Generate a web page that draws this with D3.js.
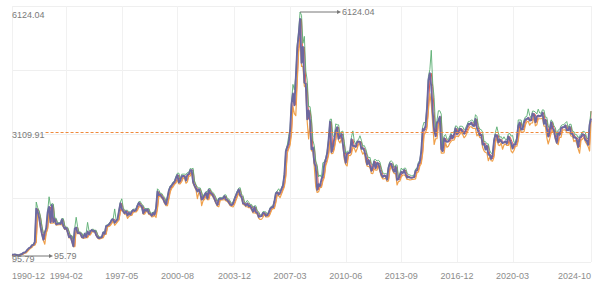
<!DOCTYPE html>
<html>
<head>
<meta charset="utf-8">
<script src="https://cdn.jsdelivr.net/npm/d3@7"></script>
<style>
html,body{margin:0;padding:0;background:#fff;}
svg{display:block;font-family:"Liberation Sans",Arial,sans-serif;}
</style>
</head>
<body>
<div id="chart"></div>
<script>
// ---- categories: monthly, 1990-12 .. 2024-10 ----
const firstMonth = "1990-12";
const lastMonth = "2024-10";
const tickLabels = ["1990-12","1994-02","1997-05","2000-08","2003-12","2007-03","2010-06","2013-09","2016-12","2020-03","2024-10"];

// ---- series values (SSE Composite, sampled per month) ----
const close = [
127.61,
129.97,133.99,120.19,113.94,114.83,137.56,145.04,178.43,180.92,218.60,259.60,292.75,
313.24,364.97,370.80,445.09,1265.79,1195.54,1048.10,820.70,640.75,499.29,670.21,780.39,
1179.31,1311.03,925.91,1358.78,935.56,1007.07,880.79,890.28,900.10,888.36,1000.89,833.80,
770.24,789.06,690.67,560.38,590.22,467.57,333.92,772.20,800.54,661.28,670.83,647.87,
562.59,549.26,647,563,700.5,631,710,740,705,717,617,555.29,
537,550,563,679,643,834,849,873,922,993,1002,917.02,
963,1002,1206,1399,1264,1200,1150,1203,1097,1165,1119,1194.1,
1232,1205,1243,1339,1411,1339,1326,1150,1247,1215,1248,1146.7,
1134,1090,1159,1120,1279,1689,1601,1613,1556,1513,1422,1366.58,
1534,1714,1800,1836,1894,1928,2023,2097,1910,1961,2070,2073.48,
2066,1959,2112,2119,2214,2218,1920,1834,1764,1689,1747,1645.97,
1491,1524,1603,1657,1515,1732,1651,1636,1581,1507,1421,1357.65,
1499,1511,1510,1521,1576,1487,1476,1422,1367,1349,1397,1497.04,
1590,1675,1742,1595,1555,1399,1386,1342,1396,1320,1340,1266.5,
1191,1306,1181,1159,1060,1080,1083,1162,1155,1092,1099,1161.06,
1258,1299,1298,1440,1641,1672,1612,1658,1752,1837,2099,2675.47,
2786,2881,3183,3841,4109,3820,4471,5218,5552,5954,4871,5262,
4383,4348,3473,3693,3433,2736,2775,2397,2293,1729,1871,1821,
1991,2082,2373,2477,2633,2959,3412,2667,2779,2996,3195,3277,
2989,3051,3110,2871,2592,2398,2638,2639,2656,2979,2820,2808,
2791,2905,2928,2911,2743,2762,2701,2568,2360,2469,2333,2199,
2293,2429,2263,2397,2373,2226,2103,2048,2086,2069,1980,2269,
2385,2366,2237,2178,2301,1979,1994,2098,2175,2142,2221,2116,
2033,2056,2033,2026,2039,2048,2202,2218,2364,2420,2683,3235,
3210,3310,3748,4442,4612,4277,3664,3206,3053,3383,3446,3539,
2738,2688,3004,2938,2917,2930,2979,3085,3005,3100,3250,3104,
3159,3242,3223,3155,3117,3192,3273,3361,3349,3393,3317,3307,
3481,3259,3169,3082,3095,2847,2876,2725,2821,2603,2588,2494,
2585,2941,3091,3078,2899,2979,2933,2886,2905,2929,2872,3050,
2977,2880,2750,2860,2852,2985,3310,3396,3218,3225,3392,3473,
3483,3509,3441,3447,3615,3591,3397,3544,3568,3547,3564,3640,
3361,3462,3252,3047,3186,3399,3253,3202,3024,2893,3151,3089,
3255,3280,3273,3323,3205,3202,3291,3120,3110,3018,3030,2975,
2789,3015,3041,3105,3087,2967,2939,2842,3336,3490
];
const open = [
96.05,
127.61,129.97,133.99,120.19,113.94,114.83,137.56,145.04,178.43,180.92,218.60,259.60,
292.75,313.24,364.97,370.80,445.09,1265.79,1195.54,1048.10,820.70,640.75,499.29,670.21,
780.39,1179.31,1311.03,925.91,1358.78,935.56,1007.07,880.79,890.28,900.10,888.36,1000.89,
833.80,770.24,789.06,690.67,560.38,590.22,467.57,333.92,772.20,800.54,661.28,670.83,
647.87,562.59,549.26,647,563,700.5,631,710,740,705,717,617,
555.29,537,550,563,679,643,834,849,873,922,993,1002,
917.02,963,1002,1206,1399,1264,1200,1150,1203,1097,1165,1119,
1194.1,1232,1205,1243,1339,1411,1339,1326,1150,1247,1215,1248,
1146.7,1134,1090,1159,1120,1279,1689,1601,1613,1556,1513,1422,
1366.58,1534,1714,1800,1836,1894,1928,2023,2097,1910,1961,2070,
2073.48,2066,1959,2112,2119,2214,2218,1920,1834,1764,1689,1747,
1645.97,1491,1524,1603,1657,1515,1732,1651,1636,1581,1507,1421,
1357.65,1499,1511,1510,1521,1576,1487,1476,1422,1367,1349,1397,
1497.04,1590,1675,1742,1595,1555,1399,1386,1342,1396,1320,1340,
1266.5,1191,1306,1181,1159,1060,1080,1083,1162,1155,1092,1099,
1161.06,1258,1299,1298,1440,1641,1672,1612,1658,1752,1837,2099,
2675.47,2786,2881,3183,3841,4109,3820,4471,5218,5552,5954,4871,
5262,4383,4348,3473,3693,3433,2736,2775,2397,2293,1729,1871,
1821,1991,2082,2373,2477,2633,2959,3412,2667,2779,2996,3195,
3277,2989,3051,3110,2871,2592,2398,2638,2639,2656,2979,2820,
2808,2791,2905,2928,2911,2743,2762,2701,2568,2360,2469,2333,
2199,2293,2429,2263,2397,2373,2226,2103,2048,2086,2069,1980,
2269,2385,2366,2237,2178,2301,1979,1994,2098,2175,2142,2221,
2116,2033,2056,2033,2026,2039,2048,2202,2218,2364,2420,2683,
3235,3210,3310,3748,4442,4612,4277,3664,3206,3053,3383,3446,
3539,2738,2688,3004,2938,2917,2930,2979,3085,3005,3100,3250,
3104,3159,3242,3223,3155,3117,3192,3273,3361,3349,3393,3317,
3307,3481,3259,3169,3082,3095,2847,2876,2725,2821,2603,2588,
2494,2585,2941,3091,3078,2899,2979,2933,2886,2905,2929,2872,
3050,2977,2880,2750,2860,2852,2985,3310,3396,3218,3225,3392,
3473,3483,3509,3441,3447,3615,3591,3397,3544,3568,3547,3564,
3640,3361,3462,3252,3047,3186,3399,3253,3202,3024,2893,3151,
3089,3255,3280,3273,3323,3205,3202,3291,3120,3110,3018,3030,
2975,2789,3015,3041,3105,3087,2967,2939,2842,3674.4
];
const high = [
127.61,
133,137,137,123,118,140,148,184,188,226,267,300,
321,373,382,455,1429,1290,1215,1068,840,660,690,800,
1200,1558.95,1335,1392,1380,1030,1028,910,920,920,1022,1020,
852,808,806,706,604,604,480,790,1052.94,818,686,686,
662,577,662,662,926.41,716,726,756,756,732,732,632,
570,565,578,695,695,855,870,895,944,1015,1024,1258.69,
985,1024,1228,1430,1510.18,1286,1222,1225,1225,1187,1187,1216,
1254,1254,1265,1368,1441,1441,1369,1348,1269,1269,1270,1270,
1169,1156,1181,1181,1301,1756.18,1719,1643,1643,1586,1543,1452,
1564,1744,1830,1866,1924,1958,2068,2142,2142,1991,2115,2118,
2118,2111,2157,2164,2259,2245.44,2263,1950,1864,1794,1777,1777,
1676,1554,1633,1687,1687,1762,1762,1681,1666,1611,1537,1451,
1529,1541,1541,1551,1606,1606,1517,1506,1452,1397,1427,1527,
1620,1705,1772,1783.01,1625,1585,1429,1416,1470,1426,1370,1370,
1296,1336,1336,1211,1189,1110,1110,1192,1192,1185,1129,1191,
1288,1329,1329,1470,1671,1702,1757,1688,1782,1867,2144,2720,
2831,3049,3243,3901,4335,4199,4561,5308,5642,6124.04,6044,5352,
5522,4673,4438,3786,3786,3493,2952,2820,2442,2338,2051,2100,
2036,2402,2418,2522,2678,3004,3472,3478.01,3068,3041,3361,3337,
3337,3111,3170,3181,2916,2637,2683,2684,2701,3024,3186.72,2941,
2853,2950,2973,3067,2956,2807,2826,2746,2613,2514,2536,2378,
2338,2474,2478,2442,2461,2418,2271,2148,2131,2131,2114,2314,
2430,2444,2411,2282,2346,2346,2039,2143,2270,2220,2266,2266,
2161,2101,2101,2078,2084,2093,2247,2263,2409,2465,2728,3295,
3406,3370,3808,4532,4702,5178.19,4367,4006,3266,3443,3684,3684,
3599,2783,3064,3097,2983,2975,3070,3140,3145,3160,3310,3301,
3219,3302,3302,3295,3215,3252,3333,3421,3421,3453,3451,3377,
3587,3541,3319,3229,3219,3155,2921,2921,2866,2866,2703,2633,
2630,2986,3151,3288,3138,3024,3048,2978,3042,2974,2974,3110,
3127,3058,3074,2905,2905,3030,3458,3456,3456,3285,3452,3533,
3543,3731.69,3569,3507,3675,3675,3651,3604,3723,3628,3624,3708,
3700,3522,3522,3312,3246,3459,3425,3313,3262,3084,3211,3226,
3315,3340,3340,3383,3418,3265,3351,3351,3180,3170,3090,3090,
3020,3060,3101,3165,3174,3147,3012,2984,3358,3674.4
];
const low = [
95.79,
125,127,117,111,105,112,135,142,171,174,212,253,
286,306,355,362,436,1170,1025,780,620,480,386.85,655,
765,1160,905,905,915,915,860,862,870,868,870,815,
752,752,674,545,546,453,325.89,325,760,645,645,632,
548,535,535,548,548,616,616,695,690,690,602,540,
512.83,522,535,548,628,628,812,827,851,900,971,855,
895,941,980,1184,1242,1178,1128,1128,1025,1075,1097,1097,
1172,1183,1183,1221,1309,1309,1296,1128,1128,1193,1193,1124,
1112,1064,1068,1098,1047,1257,1571,1571,1526,1483,1392,1337,
1337,1504,1684,1770,1806,1864,1898,1978,1880,1880,1931,2025,
2021,1893,1929,2067,2074,2169,1890,1804,1734,1514,1659,1616,
1339,1461,1494,1573,1485,1485,1621,1606,1551,1477,1391,1328,
1311,1469,1480,1480,1491,1457,1446,1392,1337,1319,1307,1367,
1467,1560,1645,1565,1525,1369,1356,1312,1312,1290,1290,1237,
1161,1161,1151,1129,1030,998.23,1004,1053,1125,1062,1062,1069,
1131,1228,1268,1268,1410,1611,1582,1541,1628,1722,1807,2054,
2630,2741,2836,3123,3781,3615,3563,4381,5128,5462,4781,4781,
4293,4258,3413,2990,3373,2691,2691,2284,1802,1664.93,1684,1791,
1791,1946,2037,2328,2432,2588,2914,2622,2630,2734,2951,3135,
2944,2890,2991,2826,2481,2353,2320,2593,2573,2611,2775,2763,
2661,2746,2860,2866,2698,2610,2656,2437,2315,2307,2288,2134,
2132,2248,2218,2218,2328,2181,2058,2003,2003,2024,1935,1949.46,
2224,2321,2192,2133,2133,1849.65,1934,1949,2053,2097,2097,2071,
1988,1988,1974,1981,1991,1994,2003,2157,2173,2319,2375,2638,
3095,3150,3250,3688,4110,3847,3373,2850,2993,2993,3323,3386,
2638.3,2638,2643,2893,2781,2807,2885,2934,2960,2960,3040,3059,
3044,3099,3163,3095,3016,3057,3132,3213,3289,3289,3257,3247,
3247,3063,3109,3022,3022,2782,2691,2653,2644,2449,2543,2449,
2440.91,2540,2881,3018,2838,2822,2888,2733,2841,2860,2827,2827,
2932,2685,2646,2705,2807,2807,2940,3250,3158,3158,3165,3332,
3413,3423,3328,3381,3387,3531,3312,3337,3484,3487,3487,3504,
3301,3301,3023,2863,2987,3126,3193,3142,2979,2885,2848,3029,
3029,3195,3213,3213,3145,3142,3142,3060,3050,2923,2958,2882,
2744,2635,2955,2981,3027,2922,2865,2797,2689,3432
];
const seriesNames = ["open","high","low","close"];
const seriesColors = ["#e0574f","#5aae72","#f0a04a","#6c68a0"];
const maxLabel = "6124.04", midLabel = "3109.91", minLabel = "95.79";
const yAxisMin = -52.4, yAxisMax = 6272.3;

// ---- layout ----
const W = 600, H = 289;
const M = {left: 12, right: 9, top: 6, bottom: 27};
const parse = d3.timeParse("%Y-%m"), fmt = d3.timeFormat("%Y-%m");
const categories = d3.timeMonth.range(parse(firstMonth), d3.timeMonth.offset(parse(lastMonth), 1)).map(fmt);

const svg = d3.select("#chart").append("svg").attr("width", W).attr("height", H);
const x = d3.scalePoint().domain(categories).range([M.left, W - M.right]);
const y = d3.scaleLinear().domain([yAxisMin, yAxisMax]).range([H - M.bottom, M.top]);

// grid
const yGrid = d3.range(5).map(i => yAxisMin + i * (yAxisMax - yAxisMin) / 4);
svg.append("g").selectAll("line").data(yGrid).join("line")
  .attr("x1", M.left).attr("x2", W - M.right)
  .attr("y1", d => Math.round(y(d)) + 0.5).attr("y2", d => Math.round(y(d)) + 0.5)
  .attr("stroke", "#efefef").attr("stroke-width", 1);
const xGrid = tickLabels.concat([categories[categories.length - 1]]);
svg.append("g").selectAll("line").data(xGrid).join("line")
  .attr("x1", d => Math.round(x(d)) + 0.5).attr("x2", d => Math.round(x(d)) + 0.5)
  .attr("y1", M.top).attr("y2", H - M.bottom)
  .attr("stroke", "#f1f1f1").attr("stroke-width", 1);

// x labels
const n = tickLabels.length;
svg.append("g").selectAll("text").data(tickLabels).join("text")
  .attr("x", d => x(d))
  .attr("y", H - M.bottom + 14)
  .attr("dominant-baseline", "central")
  .attr("text-anchor", (d, i) => i === 0 ? "start" : (i === n - 1 ? "end" : "middle"))
  .attr("font-size", 9).attr("fill", "#8c8c8c")
  .text(d => d);

// lines
const series = [open, high, low, close];
const widths = [1, 0.9, 1.2, 1.9];
const lineGen = vals => d3.line().x((d, i) => x(categories[i])).y(d => y(d))(vals);
svg.append("g").selectAll("path").data(series).join("path")
  .attr("d", d => lineGen(d))
  .attr("fill", "none")
  .attr("stroke", (d, i) => seriesColors[i])
  .attr("stroke-width", (d, i) => widths[i])
  .attr("stroke-linejoin", "round");

// left labels + mid dashed line
const labelFont = 9, labelColor = "#7a7a7a";
const maxV = d3.max(high), minV = d3.min(low), midV = +midLabel;
svg.append("text").attr("x", M.left).attr("y", y(maxV) + 3).attr("dominant-baseline", "central")
  .attr("font-size", labelFont).attr("fill", labelColor).text(maxLabel);
const tMid = svg.append("text").attr("x", M.left).attr("y", y(midV) + 1).attr("dominant-baseline", "central")
  .attr("font-size", labelFont).attr("fill", labelColor).text(midLabel);
const midW = tMid.node().getComputedTextLength();
svg.append("line")
  .attr("x1", M.left + midW + 1).attr("x2", W - M.right)
  .attr("y1", y(midV) - 1.5).attr("y2", y(midV) - 1.5)
  .attr("stroke", "#f08a3c").attr("stroke-width", 1).attr("stroke-dasharray", "3,2");

// annotations for max and min
function annotate(idx, val, label) {
  const px = x(categories[idx]), py = y(val);
  const ex = px + 39;
  svg.append("line").attr("x1", px).attr("x2", ex).attr("y1", py).attr("y2", py)
    .attr("stroke", "#777").attr("stroke-width", 1);
  svg.append("path").attr("d", `M${ex + 2},${py} L${ex - 2},${py - 2} L${ex - 2},${py + 2} Z`).attr("fill", "#777");
  svg.append("text").attr("x", ex + 3).attr("y", py).attr("dominant-baseline", "central")
    .attr("font-size", labelFont).attr("fill", labelColor).text(label);
}
annotate(high.indexOf(maxV), maxV, maxLabel);
annotate(low.indexOf(minV), minV, minLabel);
svg.append("text").attr("x", M.left).attr("y", y(minV) + 3).attr("dominant-baseline", "central")
  .attr("font-size", labelFont).attr("fill", labelColor).text(minLabel);
</script>
</body>
</html>
